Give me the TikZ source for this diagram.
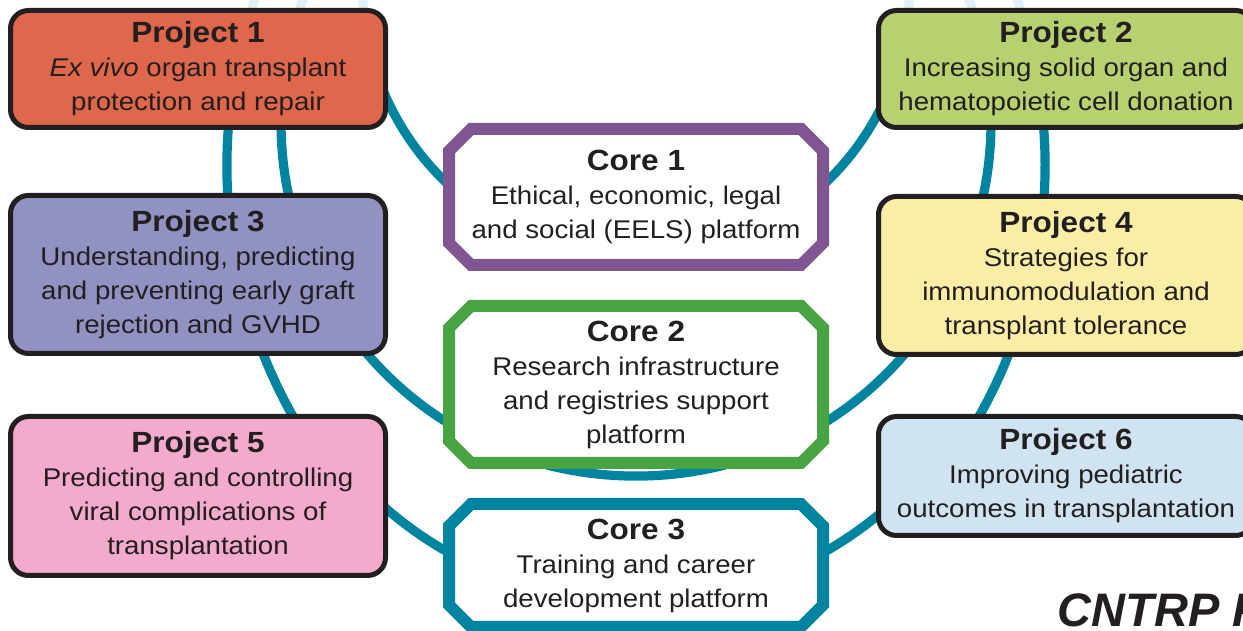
\documentclass[tikz,border=0pt]{standalone}
\usepackage{fontspec}
\setmainfont{Liberation Sans}[FakeStretch=1.08]
\newfontfamily\tagfont{Liberation Sans}
\usetikzlibrary{positioning,backgrounds}
\definecolor{boxline}{HTML}{231F20}
\definecolor{ringteal}{HTML}{00849F}
\definecolor{pone}{HTML}{DF674C}
\definecolor{ptwo}{HTML}{B7D170}
\definecolor{pthree}{HTML}{9192C2}
\definecolor{pfour}{HTML}{FAEDA5}
\definecolor{pfive}{HTML}{F3AACC}
\definecolor{psix}{HTML}{CFE3F1}
\definecolor{cone}{HTML}{7F5692}
\definecolor{ctwo}{HTML}{48A443}
\definecolor{cthree}{HTML}{00849F}
\newcommand{\bodyfont}{\fontsize{12.8}{17}\selectfont}
\newcommand{\ttl}[1]{{\fontsize{14.6}{17}\selectfont\bfseries #1}}
\tikzstyle{project} = [draw=boxline, line width=2.5pt, rounded corners=9pt, minimum width=187.5pt, align=center, text=boxline, font=\bodyfont]
\tikzstyle{core} = [rectangle, inner sep=0pt, outer sep=0pt, minimum width=187pt, align=center, text=boxline, font=\bodyfont]
\tikzstyle{octo} = [fill=white, line width=6pt, line join=miter]
\tikzstyle{ring} = [draw=ringteal, line width=4.6pt, looseness=0.87]
\tikzstyle{tag} = [anchor=base west, inner sep=0pt, text=boxline, font=\tagfont\fontsize{23.5}{24}\selectfont\bfseries\itshape]

\begin{document}
\begin{tikzpicture}[x=0.5pt, y=0.5pt, thick]
  \useasboundingbox (0,0) rectangle (1243,631);

  % projects
  \node [project, fill=pone, minimum height=58.5pt] (p1) at (198,562) {\ttl{Project 1}\\\textit{Ex vivo} organ transplant\\protection and repair};
  \node [project, fill=pthree, minimum height=79pt, below=31.5pt of p1] (p3) {\ttl{Project 3}\\Understanding, predicting\\and preventing early graft\\rejection and GVHD};
  \node [project, fill=pfive, minimum height=79.5pt, below=29pt of p3] (p5) {\ttl{Project 5}\\Predicting and controlling\\viral complications of\\transplantation};
  \node [project, fill=ptwo, minimum height=58.5pt] (p2) at (1066,562) {\ttl{Project 2}\\Increasing solid organ and\\hematopoietic cell donation};
  \node [project, fill=pfour, minimum height=79pt, below=32pt of p2] (p4) {\ttl{Project 4}\\Strategies for\\immunomodulation and\\transplant tolerance};
  \node [project, fill=psix, minimum height=59.5pt, below=28.5pt of p4] (p6) {\ttl{Project 6}\\Improving pediatric\\outcomes in transplantation};

  % cores (octagons drawn behind the text)
  \node [core, minimum height=68pt] (c1) at (636,434) {\ttl{Core 1}\\Ethical, economic, legal\\and social (EELS) platform};
  \node [core, minimum height=78.5pt, below=20.5pt of c1] (c2) {\ttl{Core 2}\\Research infrastructure\\and registries support\\platform};
  \node [core, minimum height=61.5pt, below=20.5pt of c2] (c3) {\ttl{Core 3}\\Training and career\\development platform};

  \node [tag] (fig) at (1057,4) {CNTRP F};

  % rings behind the boxes
  \begin{scope}[on background layer]
    \foreach \xa/\xb in {249.3/257.6, 297.2/306.1, 363.8/362.1, 908.2/909.9, 974.8/965.9, 1022.7/1014.4}
      \draw [ring, draw=ringteal!12] (\xa,615) -- (\xb,640);
    \draw [ring] ([shift={(180.5,-9.7)}]p1.center) to[out=290, in=140] ([shift={(-176.1,2.1)}]c1.center);
    \draw [ring] ([shift={(176.1,2.1)}]c1.center) to[out=40, in=250] ([shift={(-172.5,-9.7)}]p2.center);
    \draw [ring] ([shift={(84.4,-22.1)}]p1.center) to[out=265, in=110] ([shift={(104.4,31.1)}]p3.center);
    \draw [ring, looseness=1.08] ([shift={(147.2,-51.1)}]p3.center) to[out=305, in=235] ([shift={(-139.2,-50.1)}]p4.center);
    \draw [ring] ([shift={(-96.4,32.1)}]p4.center) to[out=70, in=275] ([shift={(-76.4,-22.1)}]p2.center);
    \draw [ring] ([shift={(34,-25)}]p1.center) to[out=262, in=100] ([shift={(36.7,20.9)}]p3.center);
    \draw [ring] ([shift={(46.4,-22.5)}]p3.center) to[out=285, in=125] ([shift={(121.2,38)}]p5.center);
    \draw [ring] ([shift={(-26,-25)}]p2.center) to[out=278, in=80] ([shift={(-28.7,21.9)}]p4.center);
    \draw [ring] ([shift={(-38.4,-21.5)}]p4.center) to[out=255, in=55] ([shift={(-113.2,18)}]p6.center);
    \draw [ring] ([shift={(126.7,55.5)}]p5.center) to[out=305, in=155] ([shift={(-160.6,-0.9)}]c3.center);
    \draw [ring] ([shift={(160.6,-0.9)}]c3.center) to[out=25, in=235] ([shift={(-118.7,35.5)}]p6.center);
    \foreach \c/\col in {c1/cone, c2/ctwo, c3/cthree}
      \draw [octo, draw=\col] ([xshift=11pt]\c.north west) -- ([xshift=-11pt]\c.north east) -- ([yshift=-11pt]\c.north east) -- ([yshift=11pt]\c.south east) -- ([xshift=-11pt]\c.south east) -- ([xshift=11pt]\c.south west) -- ([yshift=11pt]\c.south west) -- ([yshift=-11pt]\c.north west) -- cycle;
  \end{scope}
\end{tikzpicture}
\end{document}
